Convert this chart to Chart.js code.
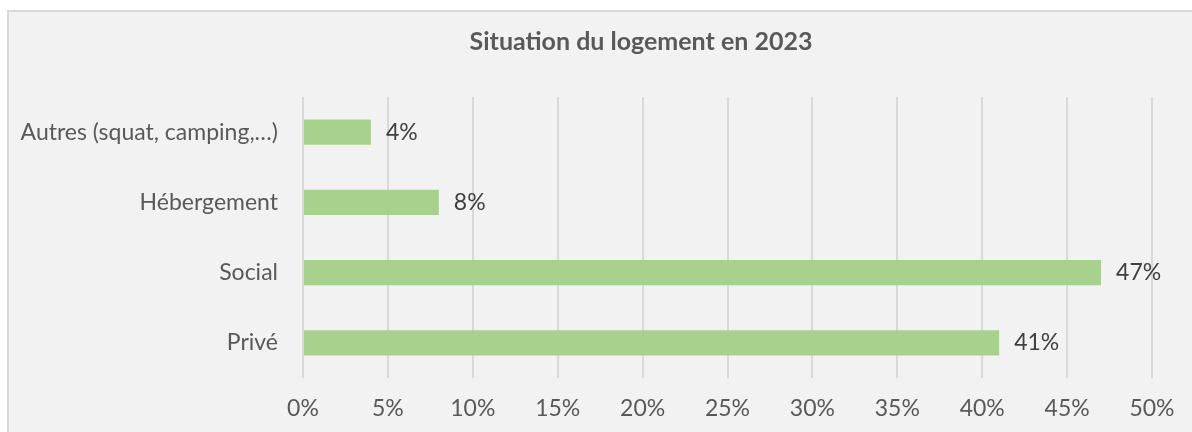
<!DOCTYPE html>
<html>
<head>
<meta charset="utf-8">
<script src="https://cdn.jsdelivr.net/npm/chart.js@4"></script>
<style>
  html, body { margin: 0; padding: 0; background: #ffffff; overflow: hidden; width: 1192px; height: 432px; }
  #frame {
    position: absolute; left: 7px; top: 10px;
    width: 1264px; height: 430px;
    background: #f2f2f2; border: 2px solid #d9d9d9;
  }
</style>
</head>
<body>
<div id="frame">
  <canvas id="logementChart" width="1264" height="430"></canvas>
</div>
<script>
  const categories = ['Autres (squat, camping,…)', 'Hébergement', 'Social', 'Privé'];
  const values = [4, 8, 47, 41];
  const xTicks = [0, 5, 10, 15, 20, 25, 30, 35, 40, 45, 50];
  const chartTitle = 'Situation du logement en 2023';

  const FONT = 'Lato, Carlito, Calibri, sans-serif';

  // bar value labels, drawn right after each bar
  const valueLabels = {
    id: 'valueLabels',
    afterDatasetsDraw(chart) {
      const ctx = chart.ctx;
      const meta = chart.getDatasetMeta(0);
      ctx.save();
      ctx.font = '23px ' + FONT;
      ctx.fillStyle = '#404040';
      ctx.textAlign = 'left';
      ctx.textBaseline = 'middle';
      meta.data.forEach((bar, i) => {
        ctx.fillText(values[i] + '%', bar.x + 15, bar.y);
      });
      ctx.restore();
    }
  };

  // centre the title on the whole frame, not only the padded area
  const wideTitle = {
    id: 'wideTitle',
    afterLayout(chart) {
      const t = chart.titleBlock;
      if (t) { t.left = 0; t.right = chart.width; t.width = chart.width; }
    }
  };

  new Chart(document.getElementById('logementChart'), {
    type: 'bar',
    data: {
      labels: categories,
      datasets: [{
        data: values,
        backgroundColor: '#a9d18e',
        borderWidth: 0,
        categoryPercentage: 1,
        barPercentage: 0.356
      }]
    },
    options: {
      indexAxis: 'y',
      responsive: false,
      animation: false,
      layout: { padding: { left: 0, right: 121, top: 0, bottom: 0 } },
      plugins: {
        legend: { display: false },
        tooltip: { enabled: false },
        title: {
          display: true,
          text: chartTitle,
          color: '#595959',
          font: { family: FONT, size: 25, weight: 'bold' },
          padding: { top: 15, bottom: 40 }
        }
      },
      scales: {
        x: {
          min: 0,
          max: 50,
          afterBuildTicks: (scale) => { scale.ticks = xTicks.map(v => ({ value: v })); },
          afterFit: (scale) => { scale.height = 64; },
          grid: { color: '#d9d9d9', lineWidth: 2, drawTicks: false },
          border: { display: false },
          ticks: {
            padding: 17,
            color: '#595959',
            font: { family: FONT, size: 23 },
            callback: (v) => v + '%'
          }
        },
        y: {
          afterFit: (scale) => { scale.width = 294; },
          grid: { display: false, drawTicks: false },
          border: { display: false },
          ticks: {
            padding: 25,
            color: '#595959',
            font: { family: FONT, size: 23 }
          }
        }
      }
    },
    plugins: [valueLabels, wideTitle]
  });
</script>
</body>
</html>
